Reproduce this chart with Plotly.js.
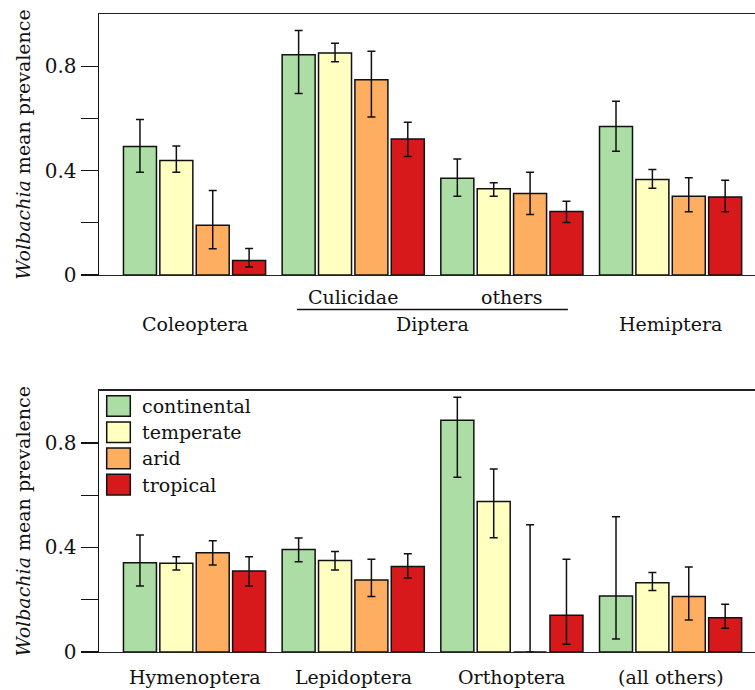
<!DOCTYPE html>
<html>
<head>
<meta charset="utf-8">
<script src="https://cdn.plot.ly/plotly-3.0.1.min.js"></script>
<style>html,body{margin:0;padding:0;background:#fff}#chart{width:755px;height:690px}</style>
</head>
<body>
<div id="chart"></div>
<script>
// ---- data ----
const climates = ['continental', 'temperate', 'arid', 'tropical'];
const colors = ['#abdda4', '#ffffbf', '#fdae61', '#d7191c'];

const topCategories = ['Coleoptera', 'Culicidae', 'others', 'Hemiptera'];
const topValues = [
  [0.492, 0.844, 0.371, 0.569],
  [0.439, 0.851, 0.330, 0.366],
  [0.191, 0.748, 0.312, 0.302],
  [0.056, 0.521, 0.243, 0.299]
];
const topErrPlus = [
  [0.104, 0.093, 0.073, 0.097],
  [0.055, 0.037, 0.023, 0.038],
  [0.133, 0.109, 0.082, 0.071],
  [0.046, 0.064, 0.040, 0.064]
];
const topErrMinus = [
  [0.098, 0.149, 0.069, 0.095],
  [0.045, 0.034, 0.028, 0.034],
  [0.090, 0.143, 0.080, 0.060],
  [0.025, 0.067, 0.042, 0.057]
];

const bottomCategories = ['Hymenoptera', 'Lepidoptera', 'Orthoptera', '(all others)'];
const bottomValues = [
  [0.342, 0.392, 0.887, 0.214],
  [0.340, 0.350, 0.576, 0.265],
  [0.380, 0.276, 0.000, 0.212],
  [0.310, 0.327, 0.141, 0.131]
];
const bottomErrPlus = [
  [0.106, 0.044, 0.088, 0.304],
  [0.025, 0.035, 0.124, 0.039],
  [0.046, 0.079, 0.487, 0.113],
  [0.055, 0.049, 0.214, 0.052]
];
const bottomErrMinus = [
  [0.089, 0.047, 0.218, 0.164],
  [0.026, 0.036, 0.139, 0.030],
  [0.047, 0.064, 0.000, 0.090],
  [0.057, 0.044, 0.111, 0.040]
];

const topGroupLabels = ['Coleoptera', 'Diptera', 'Hemiptera'];
const dipteraSubLabels = ['Culicidae', 'others'];
const yTickVals = [0, 0.2, 0.4, 0.6, 0.8];
const yTickText = ['0', '', '0.4', '', '0.8'];
const yTitle = '<i>Wolbachia</i> mean prevalence';

// ---- layout helpers ----
const W = 755, H = 690;
const M = {l: 99, r: 0, t: 14, b: 38};
const plotH = H - M.t - M.b, plotW = W - M.l - M.r;
const py = px => (H - M.b - px) / plotH;    // pixel y -> paper y
const pxX = px => (px - M.l) / plotW;        // pixel x -> paper x
const FONT = 'DejaVu Serif';
const FS = 19;

const traces = [];
function addPanel(cats, vals, plus, minus, xa, ya) {
  climates.forEach((c, i) => {
    traces.push({
      type: 'bar', name: c, x: cats, y: vals[i],
      xaxis: xa, yaxis: ya, showlegend: false,
      marker: {color: colors[i], line: {color: '#111', width: 1.5}},
      error_y: {type: 'data', symmetric: false, array: plus[i], arrayminus: minus[i],
                color: '#111', thickness: 1.5, width: 4}
    });
  });
}
addPanel(topCategories, topValues, topErrPlus, topErrMinus, 'x', 'y');
addPanel(bottomCategories, bottomValues, bottomErrPlus, bottomErrMinus, 'x2', 'y2');

const xRange = [-0.602, 3.532];
const xBase = {
  type: 'category', range: xRange, showline: true, mirror: true,
  linecolor: '#222', linewidth: 1.3, ticks: '', showticklabels: false,
  showgrid: false, zeroline: false, fixedrange: true
};
const yBase = {
  range: [0, 1], tickmode: 'array', tickvals: yTickVals, ticktext: yTickText,
  ticks: 'outside', ticklen: 17, tickwidth: 1.3, tickcolor: '#111',
  showline: true, linecolor: '#111', linewidth: 1.5, showgrid: false, zeroline: false,
  tickfont: {family: FONT, size: FS + 1, color: '#111'},
  title: {text: yTitle, font: {family: FONT, size: FS, color: '#111'}, standoff: 9}
};

const topBottomPx = 275, botTopPx = 390.7;
const layout = {
  width: W, height: H, margin: M,
  paper_bgcolor: '#fff', plot_bgcolor: '#fff',
  barmode: 'group', bargap: 0.083, bargroupgap: 0.093,
  font: {family: FONT, size: FS, color: '#111'},
  xaxis: Object.assign({}, xBase, {domain: [0, 1], anchor: 'y'}),
  yaxis: Object.assign({}, yBase, {domain: [py(topBottomPx), 1], anchor: 'x'}),
  xaxis2: Object.assign({}, xBase, {domain: [0, 1], anchor: 'y2'}),
  yaxis2: Object.assign({}, yBase, {domain: [0, py(botTopPx)], anchor: 'x2'}),
  annotations: [], shapes: []
};

// group labels, top panel
const topLabelPos = [0, 1.5, 3];
topGroupLabels.forEach((t, i) => layout.annotations.push({
  text: t, xref: 'x', yref: 'paper', x: topLabelPos[i], y: py(324),
  xanchor: 'center', yanchor: 'middle', showarrow: false,
  font: {family: FONT, size: FS, color: '#111'}
}));
dipteraSubLabels.forEach((t, i) => layout.annotations.push({
  text: t, xref: 'x', yref: 'paper', x: 1 + i, y: py(297),
  xanchor: 'center', yanchor: 'middle', showarrow: false,
  font: {family: FONT, size: FS, color: '#111'}
}));
layout.shapes.push({
  type: 'line', xref: 'x', yref: 'paper', x0: 0.646, x1: 2.353,
  y0: py(309.5), y1: py(309.5), line: {color: '#111', width: 1.5}
});
// group labels, bottom panel
bottomCategories.forEach((t, i) => layout.annotations.push({
  text: t, xref: 'x2', yref: 'paper', x: i, y: py(677),
  xanchor: 'center', yanchor: 'middle', showarrow: false,
  font: {family: FONT, size: FS, color: '#111'}
}));

// legend (drawn) in bottom panel
climates.forEach((c, i) => {
  const top = 395.7 + i * 26.2, bot = top + 20.6;
  layout.shapes.push({
    type: 'rect', xref: 'paper', yref: 'paper',
    x0: pxX(106.7), x1: pxX(130.3), y0: py(bot), y1: py(top),
    fillcolor: colors[i], line: {color: '#111', width: 1.5}
  });
  layout.annotations.push({
    text: c, xref: 'paper', yref: 'paper', x: pxX(140), y: py((top + bot) / 2),
    xanchor: 'left', yanchor: 'middle', showarrow: false,
    font: {family: FONT, size: FS, color: '#111'}
  });
});

Plotly.newPlot('chart', traces, layout, {displayModeBar: false, staticPlot: true});
</script>
</body>
</html>
